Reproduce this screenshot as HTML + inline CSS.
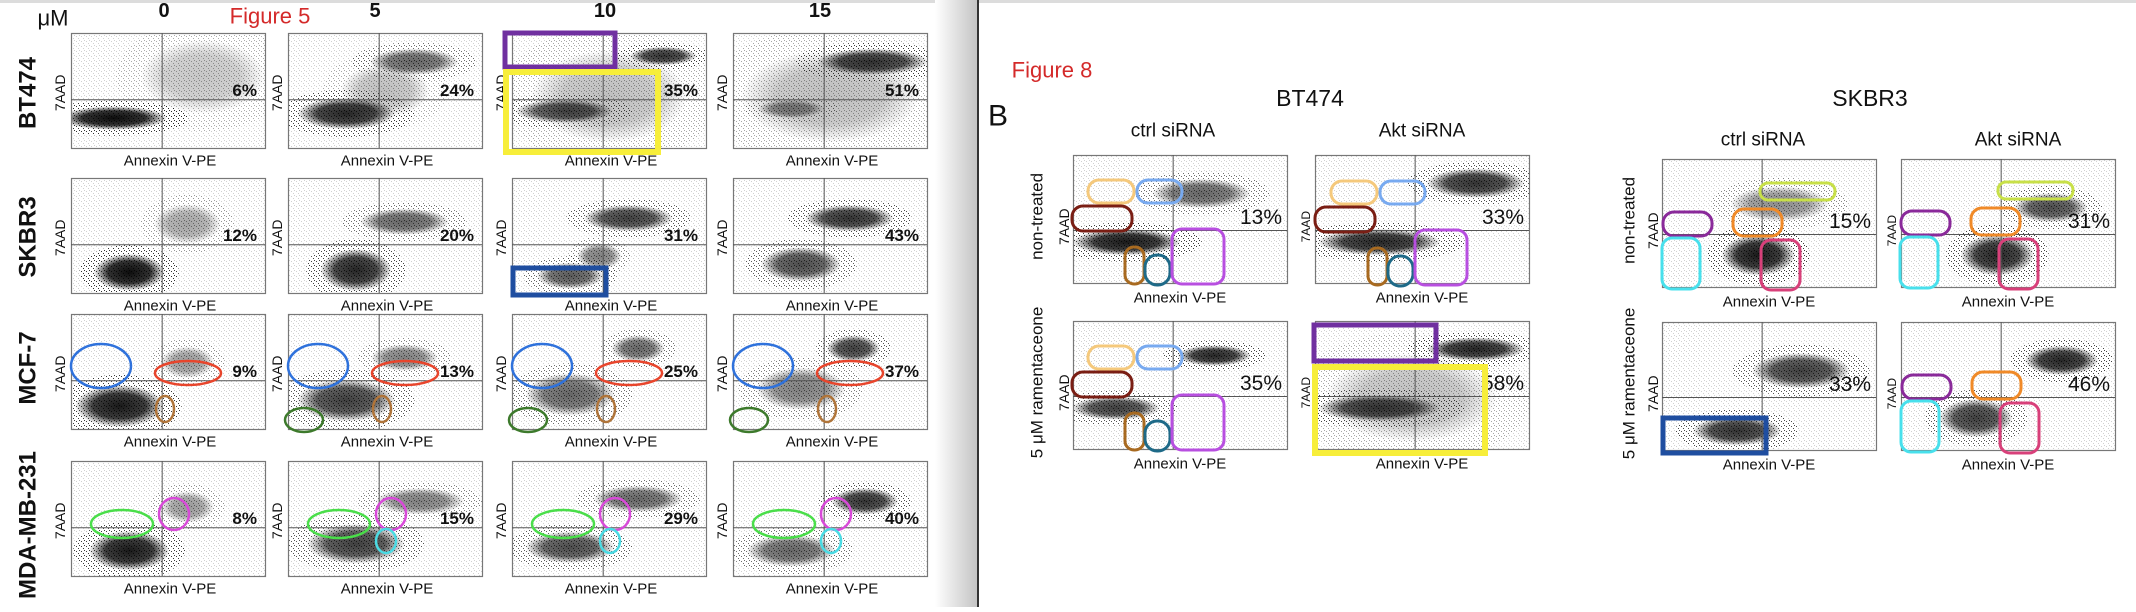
<!DOCTYPE html>
<html>
<head>
<meta charset="utf-8">
<style>
  html,body{margin:0;padding:0;background:#fff;}
  body{width:2136px;height:607px;overflow:hidden;}
  svg text{font-family:"Liberation Sans", Arial, sans-serif;}
</style>
</head>
<body>
<svg id="root" xmlns="http://www.w3.org/2000/svg" width="2136" height="607" viewBox="0 0 2136 607">
  <defs id="defs">
    <radialGradient id="blob" cx="50%" cy="50%" r="50%">
      <stop offset="0%" stop-color="#000" stop-opacity="1"/>
      <stop offset="60%" stop-color="#000" stop-opacity="0.85"/>
      <stop offset="100%" stop-color="#000" stop-opacity="0"/>
    </radialGradient>
    <linearGradient id="gutter" x1="0" x2="1" y1="0" y2="0">
      <stop offset="0" stop-color="#fff"/>
      <stop offset="1" stop-color="#c4c4c4"/>
    </linearGradient>
    <pattern id="speck" width="5" height="5" patternUnits="userSpaceOnUse">
      <rect x="1" y="1" width="1" height="1" fill="#000"/>
      <rect x="3" y="3" width="1" height="1" fill="#000"/>
      <rect x="4" y="0" width="1" height="1" fill="#000"/>
    </pattern>
  </defs>
</svg>
<script>
// ---------- Figure 5 data ----------
const fig5Rows = ['BT474', 'SKBR3', 'MCF-7', 'MDA-MB-231'];
const fig5Doses = ['0', '5', '10', '15'];
const fig5Pct = [[6, 24, 35, 51], [12, 20, 31, 43], [9, 13, 25, 37], [8, 15, 29, 40]];
// clusters per plot: [xFrac, yFrac, rxFrac, ryFrac, density]
const fig5BT474 = [
  [[0.22,0.74,0.24,0.09,0.95],[0.68,0.38,0.28,0.28,0.22]],
  [[0.3,0.7,0.22,0.12,0.85],[0.65,0.25,0.2,0.1,0.6],[0.5,0.5,0.2,0.2,0.25]],
  [[0.27,0.68,0.22,0.09,0.7],[0.78,0.2,0.15,0.07,0.8],[0.5,0.55,0.35,0.35,0.25]],
  [[0.72,0.25,0.25,0.1,0.8],[0.3,0.66,0.15,0.07,0.45],[0.5,0.55,0.4,0.35,0.25]]
];
const fig5SKBR3 = [
  [[0.3,0.82,0.16,0.14,0.95],[0.6,0.4,0.15,0.15,0.35]],
  [[0.35,0.8,0.16,0.16,0.85],[0.6,0.38,0.2,0.1,0.6]],
  [[0.6,0.35,0.2,0.1,0.75],[0.45,0.68,0.1,0.1,0.5],[0.3,0.85,0.15,0.1,0.65]],
  [[0.6,0.35,0.2,0.1,0.8],[0.35,0.75,0.18,0.13,0.7]]
];
const fig5MCF7 = [
  [[0.25,0.8,0.2,0.16,0.9],[0.6,0.42,0.12,0.12,0.4]],
  [[0.3,0.75,0.22,0.16,0.75],[0.6,0.38,0.15,0.1,0.5]],
  [[0.3,0.7,0.2,0.16,0.6],[0.65,0.3,0.12,0.1,0.6]],
  [[0.35,0.65,0.2,0.16,0.5],[0.62,0.3,0.12,0.1,0.75]]
];
const fig5MDA = [
  [[0.3,0.78,0.18,0.15,0.9],[0.6,0.4,0.12,0.12,0.4]],
  [[0.35,0.72,0.22,0.15,0.75],[0.68,0.35,0.2,0.1,0.5]],
  [[0.3,0.75,0.2,0.12,0.7],[0.65,0.33,0.2,0.1,0.6]],
  [[0.3,0.78,0.2,0.12,0.6],[0.68,0.35,0.15,0.1,0.8]]
];
const fig5Clusters = [fig5BT474, fig5SKBR3, fig5MCF7, fig5MDA];

// ---------- Figure 8 data ----------
const fig8Lines = ['BT474', 'SKBR3'];
const fig8Conds = ['ctrl siRNA', 'Akt siRNA'];
const fig8Treat = ['non-treated', '5 \u03bcM ramentaceone'];
const fig8PctBT474 = [[13, 33], [35, 58]];
const fig8PctSKBR3 = [[15, 31], [33, 46]];
const fig8ClBT474 = [
  [[[0.25,0.68,0.22,0.09,0.9],[0.6,0.3,0.2,0.1,0.6]], [[0.3,0.68,0.25,0.09,0.85],[0.75,0.22,0.2,0.1,0.8]]],
  [[[0.2,0.68,0.18,0.08,0.75],[0.66,0.27,0.15,0.07,0.85]], [[0.3,0.68,0.25,0.09,0.75],[0.75,0.22,0.2,0.08,0.85],[0.45,0.6,0.35,0.3,0.25]]]
];
const fig8ClSKBR3 = [
  [[[0.45,0.75,0.15,0.14,0.9],[0.55,0.35,0.2,0.12,0.45]], [[0.45,0.75,0.15,0.14,0.85],[0.7,0.38,0.15,0.1,0.7]]],
  [[[0.65,0.38,0.2,0.12,0.75],[0.35,0.85,0.18,0.1,0.8]], [[0.75,0.3,0.15,0.1,0.85],[0.35,0.75,0.15,0.13,0.75]]]
];

// ---------- helpers ----------
const NS = 'http://www.w3.org/2000/svg';
const root = document.getElementById('root');
const defs = document.getElementById('defs');
function mk(tag, attrs, parent) {
  const e = document.createElementNS(NS, tag);
  for (const k in attrs) e.setAttribute(k, attrs[k]);
  (parent || root).appendChild(e);
  return e;
}
function txt(str, x, y, size, opts, parent) {
  opts = opts || {};
  const t = mk('text', {x: x, y: y, 'font-size': size, fill: opts.fill || '#111',
    'text-anchor': opts.anchor || 'middle', 'dominant-baseline': 'central',
    'font-weight': opts.bold ? 'bold' : 'normal'}, parent);
  if (opts.rot) t.setAttribute('transform', 'rotate(-90 ' + x + ' ' + y + ')');
  t.textContent = str;
  return t;
}

// page chrome
const topStrip = mk('rect', {x:0, y:0, width:2136, height:3, fill:'#dcdcdc'});


const gut = mk('rect', {x:935, y:0, width:42, height:607, fill:'url(#gutter)'});


const gutLine = mk('rect', {x:977, y:0, width:2, height:607, fill:'#333'});



let clipCount = 0;
// generic flow plot
function drawPlot(g, x, y, w, h, clusters, vf, hf, name) {
  
  
  const cid = 'clip' + (clipCount++);
  const cp = mk('clipPath', {id: cid}, defs);
  mk('rect', {x:x, y:y, width:w, height:h}, cp);
  const inner = mk('g', {'clip-path': 'url(#' + cid + ')'}, g);
  
  
  const sp = mk('rect', {x:x, y:y, width:w, height:h, fill:'url(#speck)', opacity:0.18}, inner);
  
  
  clusters.forEach(function (c) {
    const sk = mk('ellipse', {cx: x + c[0] * w, cy: y + c[1] * h, rx: c[2] * w * 1.6, ry: c[3] * h * 1.7,
      fill: 'url(#speck)', opacity: Math.min(1, c[4] * 0.8)}, inner);
    
    
    const el = mk('ellipse', {cx: x + c[0] * w, cy: y + c[1] * h, rx: c[2] * w * 1.15, ry: c[3] * h * 1.15,
      fill: 'url(#blob)', opacity: Math.min(1, c[4] * 1.0)}, inner);
    
    
  });
  const b = mk('rect', {x:x+0.5, y:y+0.5, width:w, height:h, fill:'none', stroke:'#777', 'stroke-width':1.2}, g);
  
  
  const vl = mk('line', {x1: x + vf * w, x2: x + vf * w, y1: y, y2: y + h, stroke:'#555', 'stroke-width':1}, g);
  
  
  const hl = mk('line', {x1: x, x2: x + w, y1: y + hf * h, y2: y + hf * h, stroke:'#555', 'stroke-width':1}, g);
  
  
}

// ---------- Figure 5 ----------
const f5ColX = [71, 288, 512, 733];
const f5RowY = [33, 178, 314, 461];
const f5W = 194, f5H = 115;
let t;
t = txt('\u03bcM', 53, 18, 22, {});


t = txt('Figure 5', 270, 16, 22, {fill:'#d42a2a'});


const doseX = [164, 375, 605, 820];
fig5Doses.forEach(function (d, i) {
  const dl = txt(d, doseX[i], 11, 20, {bold:true});
  
  
});
const rowCY = [93, 237, 368, 525];
fig5Rows.forEach(function (r, ri) {
  const rl = txt(r, 28, rowCY[ri], 24, {bold:true, rot:true});
  
  
  fig5Doses.forEach(function (d, ci) {
    const x = f5ColX[ci], y = f5RowY[ri];
    const g = mk('g', {});
    drawPlot(g, x, y, f5W, f5H, fig5Clusters[ri][ci], 0.47, 0.58, 'fig5-plot');
    const yl = txt('7AAD', x - 11, y + 0.52 * f5H, 14, {rot:true}, g);
    
    
    const xl = txt('Annexin V-PE', x + f5W / 2 + 2, y + f5H + 13, 15, {}, g);
    
    
    const pl = txt(fig5Pct[ri][ci] + '%', x + f5W - 8, y + 0.5 * f5H, 17, {bold:true, anchor:'end'}, g);
    
    
  });
});
// Figure 5 gates
function ell(cx, cy, rx, ry, col, name, sw) {
  const e = mk('ellipse', {cx:cx, cy:cy, rx:rx, ry:ry, fill:'none', stroke:col, 'stroke-width':sw || 2.5});
  
  
}
function rr(x1, y1, x2, y2, col, name, sw, rad) {
  const e = mk('rect', {x:x1, y:y1, width:x2 - x1, height:y2 - y1, rx:rad || 0, fill:'none', stroke:col, 'stroke-width':sw});
  
  
}
f5ColX.forEach(function (x, ci) {
  const y3 = f5RowY[2], y4 = f5RowY[3];
  ell(x + 30, y3 + 52, 30, 22, '#2f72dc', 'gate-blue-ellipse');
  ell(x + 117, y3 + 59, 33, 12, '#e8452c', 'gate-red-ellipse');
  ell(x + 94, y3 + 95, 9, 13, '#b0753a', 'gate-brown-ellipse');
  if (ci > 0) ell(x + 16, y3 + 106, 19, 12, '#3d7a2c', 'gate-green-ellipse');
  ell(x + 51, y4 + 63, 31, 14, '#4ade4a', 'gate-lime-ellipse');
  ell(x + 103, y4 + 53, 15, 16, '#d94ad9', 'gate-magenta-ellipse');
  if (ci > 0) ell(x + 98, y4 + 80, 10, 12, '#4adbe4', 'gate-cyan-ellipse');
});
rr(505, 33, 615, 67, '#7030a0', 'gate-purple-box', 5);
rr(506, 72, 658, 152, '#f7ee3a', 'gate-yellow-box', 6);
rr(513, 268, 606, 295, '#1f4ea0', 'gate-blue-box', 5);

// ---------- Figure 8 ----------
t = txt('Figure 8', 1052, 70, 22, {fill:'#d42a2a'});


t = txt('B', 998, 116, 30, {});


const f8W = 214, f8H = 128;
const f8Layout = [
  {title: 1310, ty: 98, condX: [1173, 1422], condY: 131, colX: [1073, 1315], rowY: [155, 321], sideX: 1037, pct: fig8PctBT474, cl: fig8ClBT474},
  {title: 1870, ty: 98, condX: [1763, 2018], condY: 140, colX: [1662, 1901], rowY: [159, 322], sideX: 1629, pct: fig8PctSKBR3, cl: fig8ClSKBR3}
];
fig8Lines.forEach(function (ln, li) {
  const L = f8Layout[li];
  const tl = txt(ln, L.title, L.ty, 23, {});
  
  
  fig8Conds.forEach(function (c, ci) {
    const cl = txt(c, L.condX[ci], L.condY, 19, {});
    
    
  });
  fig8Treat.forEach(function (tr, ri) {
    const sl = txt(tr, L.sideX, L.rowY[ri] + 0.48 * f8H, 17, {rot:true});
    
    
    fig8Conds.forEach(function (c, ci) {
      const x = L.colX[ci], y = L.rowY[ri];
      const g = mk('g', {});
      drawPlot(g, x, y, f8W, f8H, L.cl[ri][ci], 0.468, 0.59, 'fig8-plot');
      const yl = txt('7AAD', x - 9, y + 0.56 * f8H, ci === 0 ? 14 : 12, {rot:true}, g);
      
      
      const xl = txt('Annexin V-PE', x + f8W / 2, y + f8H + 15, 15, {}, g);
      
      
      const pl = txt(L.pct[ri][ci] + '%', x + f8W - 5, y + 0.49 * f8H, 21, {anchor:'end'}, g);
      
      
    });
  });
});
// BT474 gates (relative to plot origin)
[[1073,155],[1316,156],[1073,321]].forEach(function (o) {
  const x = o[0], y = o[1];
  rr(x + 15, y + 25, x + 61, y + 48, '#f5c97c', 'gate-light-orange', 3, 11);
  rr(x + 64, y + 25, x + 109, y + 48, '#78aaf0', 'gate-light-blue', 3, 11);
  rr(x - 1, y + 51, x + 59, y + 76, '#7a1e14', 'gate-dark-red', 3, 11);
  rr(x + 52, y + 92, x + 71, y + 129, '#a86a20', 'gate-brown', 3, 9);
  rr(x + 72, y + 100, x + 97, y + 130, '#1e6a88', 'gate-teal', 3, 12);
  rr(x + 99, y + 74, x + 151, y + 129, '#b84fe0', 'gate-violet', 3, 10);
});
rr(1314, 325, 1436, 361, '#7030a0', 'gate-purple-box', 5);
rr(1315, 367, 1485, 453, '#f7ee3a', 'gate-yellow-box', 6);
// SKBR3 gates
[[1662,159],[1900,158],[1901,322]].forEach(function (o, i) {
  const x = o[0], y = o[1];
  rr(x + 1, y + 53, x + 50, y + 77, '#8a2a9a', 'gate-purple', 3, 11);
  rr(x + 0, y + 79, x + 38, y + 130, '#48e0ec', 'gate-cyan', 3, 10);
  rr(x + 71, y + 50, x + 120, y + 77, '#f08a28', 'gate-orange', 3, 11);
  if (i < 2) rr(x + 98, y + 24, x + 173, y + 41, '#c8e048', 'gate-yellow-green', 3, 8);
  rr(x + 99, y + 81, x + 138, y + 131, '#d8407a', 'gate-pink', 3, 10);
});
rr(1663, 418, 1766, 453, '#1f4ea0', 'gate-blue-box', 5);
</script>
</body>
</html>
